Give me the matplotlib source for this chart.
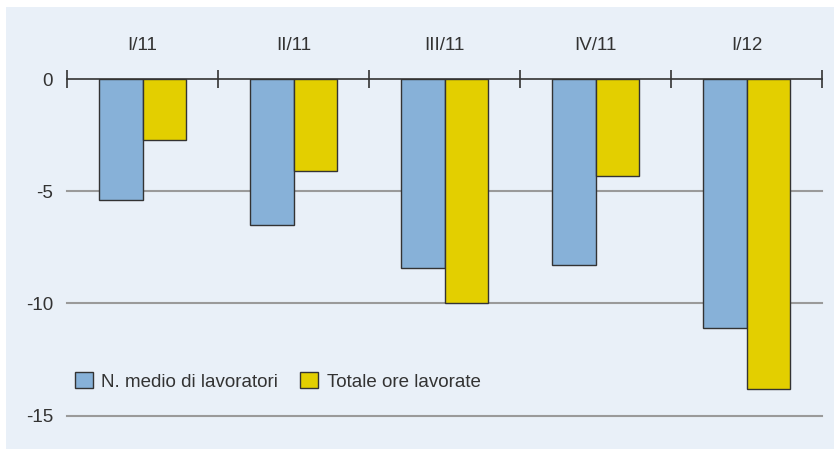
import matplotlib.pyplot as plt
from matplotlib.patches import Rectangle
import numpy as np

plt.rcParams['font.family'] = ['Liberation Sans Narrow', 'Liberation Sans', 'DejaVu Sans']

periodi = ['I/11', 'II/11', 'III/11', 'IV/11', 'I/12']
lavoratori = [-5.4, -6.5, -8.4, -8.3, -11.1]
ore = [-2.7, -4.1, -10.0, -4.3, -13.8]

blu = '#87b1d8'
giallo = '#e3cf00'
sfondo = '#e9f0f8'
testo = '#333333'

fig = plt.figure(figsize=(8.34, 4.49), dpi=100)
fig.patch.set_facecolor('white')
fig.patches.append(Rectangle((6/834, 0), 1, 1 - 7/449, transform=fig.transFigure,
                             facecolor=sfondo, edgecolor='none', zorder=-10))

ax = fig.add_axes([67/834, 1 - 415.7/449, (822 - 67)/834, (415.7 - 79)/449])
ax.set_facecolor('none')

x = np.arange(len(periodi))
w = 0.285
ax.bar(x - w/2, lavoratori, w, color=blu, edgecolor='#333333', lw=1,
       label='N. medio di lavoratori', zorder=3)
ax.bar(x + w/2, ore, w, color=giallo, edgecolor='#333333', lw=1,
       label='Totale ore lavorate', zorder=3)

ax.set_xlim(-0.5, 4.5)
ax.set_ylim(-15, 0)

for s in ['left', 'right', 'bottom']:
	ax.spines[s].set_visible(False)
ax.spines['top'].set_color('#333333')
ax.spines['top'].set_linewidth(1.2)
ax.spines['top'].set_zorder(4)

fs = 13.5
ax.xaxis.tick_top()
ax.set_xticks(x)
ax.set_xticklabels(periodi, fontsize=fs, color=testo)
ax.set_xticks(np.arange(-0.5, 5, 1), minor=True)
ax.tick_params(axis='x', which='major', length=0, pad=18)
ax.tick_params(axis='x', which='minor', direction='inout', length=13,
               width=1.2, color='#333333')

ax.set_yticks([0, -5, -10, -15])
ax.set_yticklabels(['0', '-5', '-10', '-15'], fontsize=fs, color=testo)
ax.tick_params(axis='y', length=0, pad=10)
for v in [-5, -10, -15]:
	ax.axhline(v, color='#9a9a9a', lw=1.5, zorder=1, clip_on=False)

leg = ax.legend(loc='lower left', bbox_to_anchor=(-0.007, 0.035), ncol=2,
                frameon=False, fontsize=fs, handlelength=0.95, handleheight=0.95,
                handletextpad=0.45, columnspacing=1.2, borderaxespad=0.3)
for t in leg.get_texts():
	t.set_color(testo)

fig.savefig('out.png', dpi=100, facecolor=fig.get_facecolor())
